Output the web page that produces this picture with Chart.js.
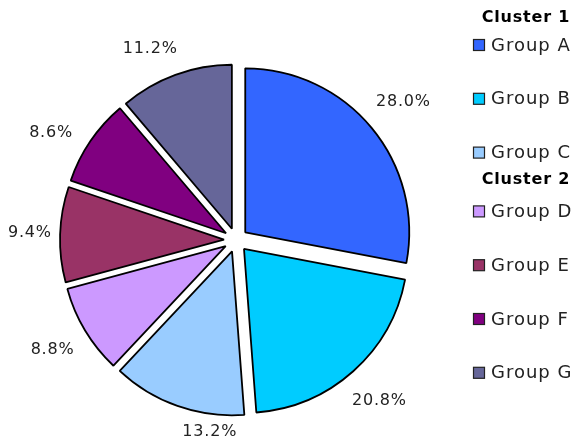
<!DOCTYPE html>
<html>
<head>
<meta charset="utf-8">
<script src="https://cdn.jsdelivr.net/npm/chart.js@4/dist/chart.umd.min.js"></script>
<style>
  html, body { margin: 0; padding: 0; background: #fff; }
  #wrap { width: 582px; height: 444px; }
</style>
</head>
<body>
<div id="wrap"><canvas id="myChart" width="582" height="444"></canvas></div>
<script>
var groups = ['Group A', 'Group B', 'Group C', 'Group D', 'Group E', 'Group F', 'Group G'];
var clusters = ['Cluster 1', 'Cluster 2'];
var clusterOf = [0, 0, 0, 1, 1, 1, 1];
var shares = [28.0, 20.8, 13.2, 8.8, 9.4, 8.6, 11.2];
var colors = ['#3366FF', '#00CCFF', '#99CCFF', '#CC99FF', '#993366', '#800080', '#666699'];

var FONT = '"DejaVu Sans", sans-serif';
var EXPLODE = 12;
// small angle tweaks (degrees) for label placement, like Excel's best fit
var LABEL_NUDGE = { 2: -12, 5: -4, 6: -4 };

// draw each slice pushed out along its middle angle (keeps radius unchanged)
var explodeSlices = {
    id: 'explodeSlices',
    beforeDatasetDraw: function (chart, args) {
        var ctx = chart.ctx;
        args.meta.data.forEach(function (arc) {
            var mid = (arc.startAngle + arc.endAngle) / 2;
            ctx.save();
            ctx.translate(Math.cos(mid) * EXPLODE, Math.sin(mid) * EXPLODE);
            arc.draw(ctx);
            ctx.restore();
        });
        return false;
    }
};

// percent labels outside each slice, kept inside the canvas
var pctLabels = {
    id: 'pctLabels',
    afterDatasetsDraw: function (chart) {
        var ctx = chart.ctx;
        var meta = chart.getDatasetMeta(0);
        var total = shares.reduce(function (a, b) { return a + b; }, 0);
        ctx.save();
        ctx.font = '16px ' + FONT;
        ctx.letterSpacing = '0.8px';
        ctx.fillStyle = '#222';
        ctx.textAlign = 'center';
        ctx.textBaseline = 'middle';
        meta.data.forEach(function (arc, i) {
            var p = arc.getProps(['x', 'y', 'startAngle', 'endAngle', 'outerRadius'], true);
            var mid = (p.startAngle + p.endAngle) / 2 + (LABEL_NUDGE[i] || 0) * Math.PI / 180;
            var txt = (shares[i] / total * 100).toFixed(1) + '%';
            var w = ctx.measureText(txt).width;
            var ux = Math.cos(mid), uy = Math.sin(mid);
            var ext = Math.abs(ux) * w / 2 + Math.abs(uy) * 8;
            var d = p.outerRadius + EXPLODE + 15 + ext;
            var x = Math.max(p.x + ux * d, w / 2 + 8);
            var y = Math.min(p.y + uy * d, chart.height - 12);
            ctx.fillText(txt, x, y);
        });
        ctx.restore();
    }
};

// legend with cluster headers
var clusterLegend = {
    id: 'clusterLegend',
    afterDraw: function (chart) {
        var ctx = chart.ctx;
        ctx.save();
        ctx.textBaseline = 'middle';
        var headerY = [18, 180];
        clusters.forEach(function (c, k) {
            ctx.font = 'bold 16px ' + FONT;
            ctx.letterSpacing = '0.8px';
            ctx.fillStyle = '#000';
            ctx.textAlign = 'center';
            ctx.fillText(c, 526, headerY[k]);
        });
        groups.forEach(function (g, i) {
            var y = 45 + i * 53.8 + (clusterOf[i] === 1 ? 5 : 0);
            ctx.fillStyle = colors[i];
            ctx.fillRect(473.5, y - 5.5, 11, 11);
            ctx.strokeStyle = '#222';
            ctx.lineWidth = 1.2;
            ctx.strokeRect(473.5, y - 5.5, 11, 11);
            ctx.font = '18px ' + FONT;
            ctx.letterSpacing = '1px';
            ctx.fillStyle = '#222';
            ctx.textAlign = 'left';
            ctx.fillText(g, 491, y + 1);
        });
        ctx.restore();
    }
};

var ctx = document.getElementById('myChart');
var myPieChart = new Chart(ctx, {
    type: 'pie',
    data: {
        labels: groups,
        datasets: [{
            data: shares,
            backgroundColor: colors,
            borderColor: '#000',
            borderWidth: 1.8,
            offset: 0,
            hoverOffset: 0
        }]
    },
    options: {
        responsive: false,
        animation: false,
        radius: 164,
        layout: { padding: { left: 0, right: 110, top: 36, bottom: 0 } },
        plugins: {
            legend: { display: false },
            tooltip: { enabled: false }
        },
        events: []
    },
    plugins: [explodeSlices, pctLabels, clusterLegend]
});
</script>
</body>
</html>
